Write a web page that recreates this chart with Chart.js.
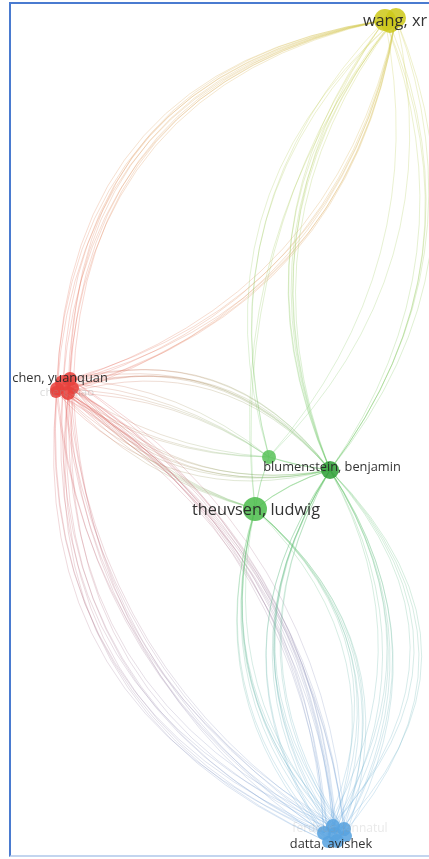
<!DOCTYPE html>
<html><head><meta charset="utf-8">
<script src="https://cdn.jsdelivr.net/npm/chart.js@4"></script>
<style>
html,body{margin:0;padding:0;background:#fff;width:429px;height:859px;overflow:hidden}
#wrap{position:relative;width:429px;height:859px}
#c{position:absolute;left:0;top:0}
#frame{position:absolute;left:9px;top:2px;width:450px;height:851px;border-left:2px solid #4a7bd0;border-top:2px solid #4a7bd0;border-bottom:2px solid #c3d5ef;pointer-events:none}
</style></head>
<body><div id="wrap"><canvas id="c" width="429" height="859"></canvas><div id="frame"></div></div>
<script>
// ---- data (layout coordinates, VOSviewer-style map) ----
const nodeNames  = ["chen, yuanquan","chen, xiao","","","","","wang, xr","","","blumenstein, benjamin","","theuvsen, ludwig","datta, avishek","ferdous, jannatul","","","","",""];
const nodeX      = [63,68,57,70,73,56, 385,396,390, 330,269, 255, 335,344,324,333,346,328,337];
const nodeY      = [383,393,389,379,388,392, 20,18,24, 470,457, 509, 834,829,833,826,836,842,841];
const nodeWeight = [8,7,7,7,6,6, 11,10,9, 9,7, 12, 7,7,7,7,6,6,7];
const nodeGroup  = ["C","C","C","C","C","C","W","W","W","B","G","T","D","D","D","D","D","D","D"];

// links between groups, with number of co-authorship strands
const edgeFrom   = ["C","C","W","W","W","W","W","C","C","C","C","C","C","C","C","B","B","B","T","T","G","T","G"];
const edgeTo     = ["W","W","B","B","G","G","T","B","B","G","G","T","D","D","D","D","D","D","D","D","B","B","T"];
const edgeCount  = [10,7,6,5,3,2,2,7,6,4,3,5,14,10,8,9,7,4,8,7,3,3,2];

// ---- styles ----
const edgeBend   = [-0.40,0.31,0.29,-0.28,0.30,-0.26,0.20,-0.33,0.28,-0.15,0.15,0.15,-0.25,0.36,0.25,0.33,-0.30,-0.47,0.28,-0.35,0.05,-0.10,0.05];
const groupColor = {C:[232,66,62],W:[206,202,30],B:[50,160,58],G:[92,196,92],T:[80,190,80],D:[90,164,224]};
const edgeColor  = {C:[230,90,85],W:[205,200,60],B:[95,195,95],G:[110,200,110],T:[100,198,100],D:[100,165,225]};
const labelStyle = {
  "chen, yuanquan":{size:12.8,dx:-3,dy:-5,color:"rgba(40,40,40,0.95)"},
  "chen, xiao":{size:11.5,dx:-1,dy:0,color:"rgba(150,150,150,0.35)"},
  "wang, xr":{size:16.3,dx:10,dy:1,color:"rgba(40,40,40,0.95)"},
  "blumenstein, benjamin":{size:12.8,dx:2,dy:-3,color:"rgba(40,40,40,0.95)"},
  "theuvsen, ludwig":{size:16.3,dx:1,dy:1,color:"rgba(40,40,40,0.95)"},
  "datta, avishek":{size:12.8,dx:-4,dy:10,color:"rgba(40,40,40,0.95)"},
  "ferdous, jannatul":{size:12,dx:-4,dy:0,color:"rgba(150,150,150,0.22)"}
};

const rgba=(c,a)=>`rgba(${c[0]},${c[1]},${c[2]},${a})`;
const members = {};
nodeGroup.forEach((g,i)=>{(members[g]=members[g]||[]).push(i);});

const edgePlugin = {
  id:'edges',
  beforeDatasetsDraw(chart){
    const ctx=chart.ctx, xs=chart.scales.x, ys=chart.scales.y;
    ctx.save();
    ctx.lineWidth=1;
    edgeFrom.forEach((f,e)=>{
      const t=edgeTo[e], n=edgeCount[e];
      const ms=members[f], mt=members[t];
      for(let i=0;i<n;i++){
        const a=ms[i%ms.length], b=mt[(i*3+e)%mt.length];
        const x1=xs.getPixelForValue(nodeX[a]), y1=ys.getPixelForValue(nodeY[a]);
        const x2=xs.getPixelForValue(nodeX[b]), y2=ys.getPixelForValue(nodeY[b]);
        const dx=x2-x1, dy=y2-y1;
        const k=n>1?(i/(n-1)-0.5):0;
        const bend=edgeBend[e]*(1+0.12*k);
        const cx=(x1+x2)/2 - dy*bend, cy=(y1+y2)/2 + dx*bend;
        const gr=ctx.createLinearGradient(x1,y1,x2,y2);
        gr.addColorStop(0,rgba(edgeColor[f],0.26));
        gr.addColorStop(1,rgba(edgeColor[t],0.26));
        ctx.strokeStyle=gr;
        ctx.beginPath();ctx.moveTo(x1,y1);ctx.quadraticCurveTo(cx,cy,x2,y2);ctx.stroke();
      }
    });
    ctx.restore();
  },
  afterDatasetsDraw(chart){
    const ctx=chart.ctx, xs=chart.scales.x, ys=chart.scales.y;
    ctx.save();
    ctx.textAlign='center';ctx.textBaseline='middle';
    nodeNames.forEach((nm,i)=>{
      if(!nm) return;
      const s=labelStyle[nm];
      ctx.font=`${s.size}px "Open Sans"`;
      ctx.fillStyle=s.color;
      ctx.fillText(nm, xs.getPixelForValue(nodeX[i])+s.dx, ys.getPixelForValue(nodeY[i])+s.dy);
    });
    ctx.restore();
  }
};

new Chart(document.getElementById('c'),{
  type:'scatter',
  data:{datasets:[{
    data:nodeX.map((x,i)=>({x:x,y:nodeY[i]})),
    pointRadius:nodeWeight,
    pointHoverRadius:nodeWeight,
    backgroundColor:nodeGroup.map(g=>rgba(groupColor[g],0.88)),
    borderWidth:0
  }]},
  options:{
    responsive:false,devicePixelRatio:1,animation:false,
    layout:{padding:0,autoPadding:false},
    plugins:{legend:{display:false},tooltip:{enabled:false}},
    scales:{
      x:{type:'linear',min:0,max:429,display:false},
      y:{type:'linear',min:0,max:859,reverse:true,display:false}
    }
  },
  plugins:[edgePlugin]
});
</script>
</body></html>
